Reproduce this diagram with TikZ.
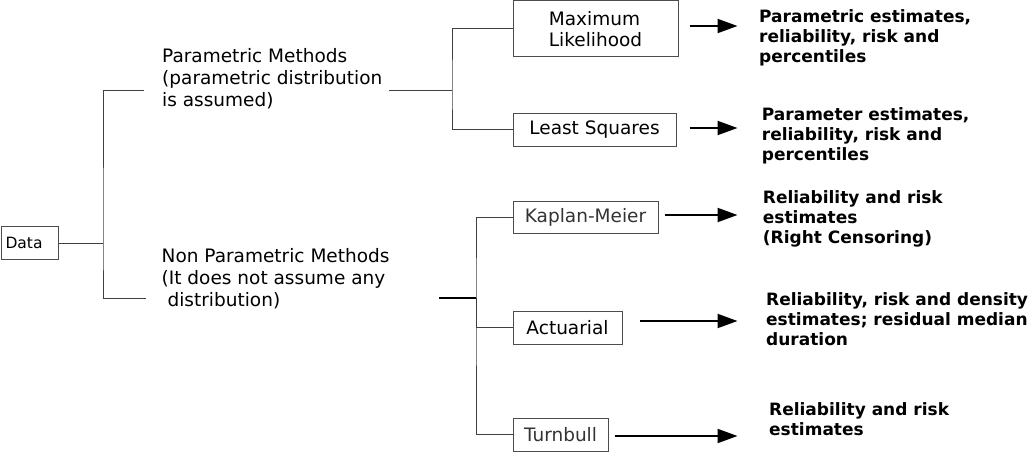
\documentclass[tikz,border=0pt]{standalone}
\usepackage{fontspec}
\setmainfont{DejaVu Sans}
\usetikzlibrary{arrows.meta}
\begin{document}
\begin{tikzpicture}[x=1pt,y=-1pt,
  txt/.style={align=left,inner sep=0pt,anchor=base west,font=\fontsize{18.5}{21.7}\selectfont},
  res/.style={align=left,inner sep=0pt,anchor=base west,font=\bfseries\fontsize{17}{20}\selectfont},
  box/.style={draw=black!70,line width=1pt,inner sep=0pt,align=left,font=\fontsize{18.5}{21.7}\selectfont},
  ln/.style={black!75,line width=1pt},
  arr/.style={line width=2pt,-{Triangle[length=20pt,width=14pt]}}]
\useasboundingbox(0,0)rectangle(1035,452);
\node[box,anchor=north west,text width=48.7pt,inner xsep=4.3pt,minimum height=33pt,font=\fontsize{15.5}{18}\selectfont](data)at(0.7,226){Data};
\node[txt](par)at(162,106){Parametric Methods\\(parametric distribution\\is assumed)};
\node[txt](nonpar)at(161.5,306){Non Parametric Methods\\(It does not assume any\\\ distribution)};
\node[box,minimum width=165pt,minimum height=56pt](ml)at(595.5,29){Maximum\\Likelihood};
\node[box,minimum width=163pt,minimum height=33pt](ls)at(594.5,129.5){Least Squares};
\node[box,minimum width=145pt,minimum height=32pt,text=black!80](km)at(585.5,217){Kaplan-Meier};
\node[box,minimum width=109pt,minimum height=33pt](act)at(567.5,327.5){Actuarial};
\node[box,minimum width=95pt,minimum height=33pt,text=black!80](tb)at(560.5,434.5){Turnbull};
\node[res](rml)at(759,62.7){Parametric estimates,\\reliability, risk and\\percentiles};
\node[res](rls)at(761.7,160){Parameter estimates,\\reliability, risk and\\percentiles};
\node[res](rkm)at(762.7,243.3){Reliability and risk\\estimates\\(Right Censoring)};
\node[res](ract)at(766,345){Reliability, risk and density\\estimates; residual median\\duration};
\node[res](rtb)at(769,435){Reliability and risk\\estimates};
\coordinate(pin)at(144,90);
\coordinate(pout)at(389,90);
\coordinate(nin)at(146,298);
\coordinate(nout)at(439,298);
\draw[ln](data.east)--++(44,0)coordinate(j0) (pin)-|(j0)|-(nin);
\draw[ln](pout)--(452,90)coordinate(j1) (ml.west)-|(j1)|-(ls.west);
\draw[black,line width=2pt](nout)--(476,298)coordinate(j2);
\draw[ln](km.west)-|(j2)|-(tb.west) (j2)|-(act.west);
\foreach \n/\g/\d/\l in {ml/11/-3/48,ls/13/-1.5/48,km/6/-2/73,act/17/-6.5/98,tb/6/1.5/123}
  \draw[arr]([shift={(\g,\d)}]\n.east)--++(\l,0);
\end{tikzpicture}
\end{document}
